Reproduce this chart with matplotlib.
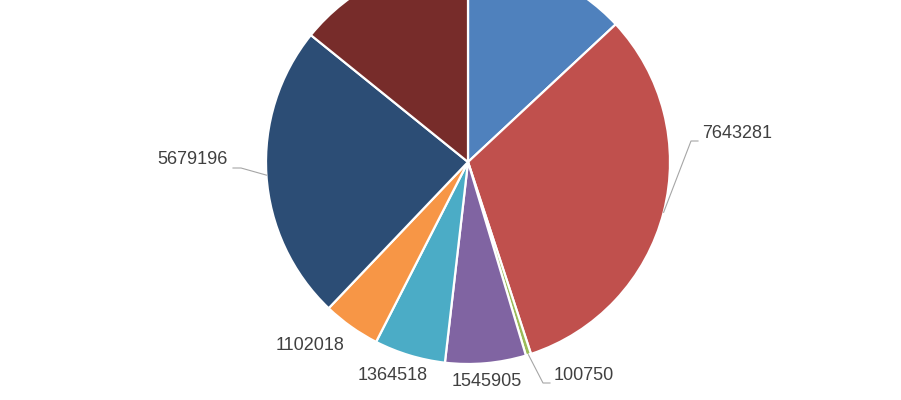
import numpy as np
import matplotlib
matplotlib.use("Agg")
from matplotlib import pyplot as plt

# slice values, clockwise from 12 o'clock (labels of first and last slice lie above the picture)
values = [3130000, 7643281, 100750, 1545905, 1364518, 1102018, 5679196, 3400000]
labels = [str(v) for v in values]
colors = ["#4F81BD", "#C0504D", "#9BBB59", "#8064A2", "#4BACC6", "#F79646", "#2C4D75", "#772C2A"]

# label anchor (pixels from top-left, left edge of text), None = outside the picture
label_pos = [None, (702, 133), (554, 375), (452, 381), (358, 375), (276, 345), (157, 160), None]
leader = [False, True, True, False, False, False, True, False]

W, H = 901, 400
cx, cy, r = 468, 162, 202

fig = plt.figure(figsize=(W / 100, H / 100), dpi=100)
ax = fig.add_axes([0, 0, 1, 1])

wedges, _ = ax.pie(values, colors=colors, startangle=90, counterclock=False,
                   center=(cx, H - cy), radius=r,
                   wedgeprops=dict(edgecolor="white", linewidth=1.6))
ax.set_xlim(0, W)
ax.set_ylim(0, H)
ax.set_aspect("equal")
ax.axis("off")

total = sum(values)
start = 0.0
for i, v in enumerate(values):
    span = v / total * 360
    mid = np.radians(start + span / 2)
    start += span
    if label_pos[i] is None:
        continue
    tx, ty = label_pos[i]
    ax.text(tx, H - ty, labels[i], fontsize=13, color="#404040",
            family="Liberation Sans", ha="left", va="center")
    if leader[i]:
        ex = cx + r * np.sin(mid)
        ey = cy - r * np.cos(mid)
        if tx > cx:
            kx, hx = tx - 11, tx - 4
        else:
            tw = 72
            kx, hx = tx + tw + 12, tx + tw + 4
        ky = ty + 8
        ax.plot([ex, kx, hx], [H - ey, H - ky, H - ky], color="#A6A6A6", lw=0.8)

fig.savefig("out.png", dpi=100)
